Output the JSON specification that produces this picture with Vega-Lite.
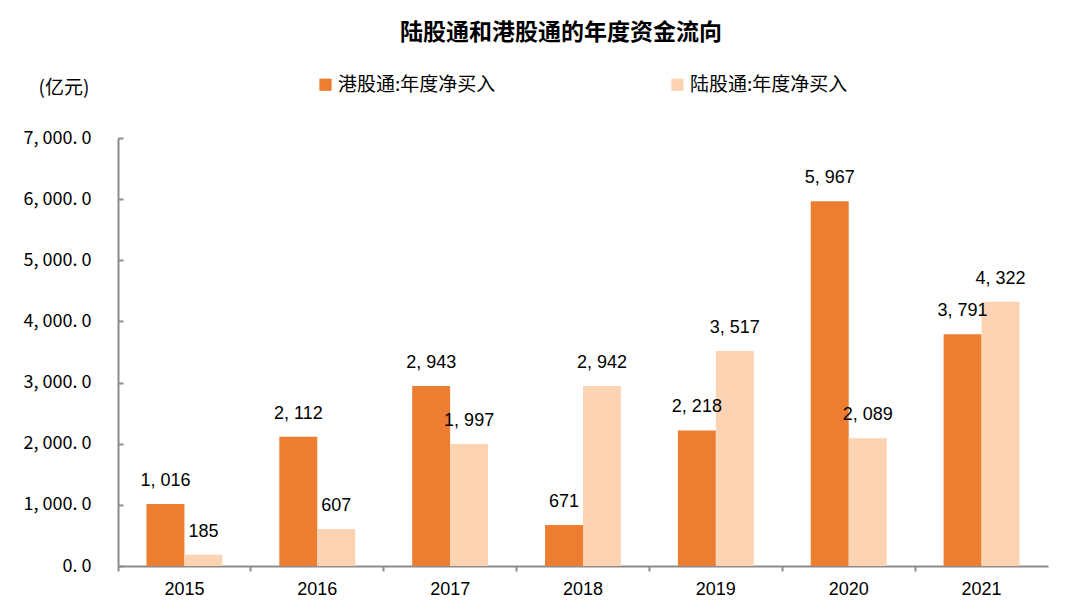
{
  "$schema": "https://vega.github.io/schema/vega-lite/v6.json",
  "autosize": "none",
  "width": 930,
  "height": 428,
  "padding": {"left": 118, "top": 138, "right": 32, "bottom": 49},
  "background": "white",
  "title": {
    "text": "陆股通和港股通的年度资金流向",
    "font": "Noto Sans CJK SC",
    "fontSize": 23,
    "fontWeight": "bold",
    "color": "#000000",
    "anchor": "middle",
    "dx": -22,
    "offset": 30
  },
  "data": {
    "values": [
      {"year": "2015", "series": "港股通:年度净买入", "v": 1016},
      {"year": "2015", "series": "陆股通:年度净买入", "v": 185},
      {"year": "2016", "series": "港股通:年度净买入", "v": 2112},
      {"year": "2016", "series": "陆股通:年度净买入", "v": 607},
      {"year": "2017", "series": "港股通:年度净买入", "v": 2943},
      {"year": "2017", "series": "陆股通:年度净买入", "v": 1997},
      {"year": "2018", "series": "港股通:年度净买入", "v": 671},
      {"year": "2018", "series": "陆股通:年度净买入", "v": 2942},
      {"year": "2019", "series": "港股通:年度净买入", "v": 2218},
      {"year": "2019", "series": "陆股通:年度净买入", "v": 3517},
      {"year": "2020", "series": "港股通:年度净买入", "v": 5967},
      {"year": "2020", "series": "陆股通:年度净买入", "v": 2089},
      {"year": "2021", "series": "港股通:年度净买入", "v": 3791},
      {"year": "2021", "series": "陆股通:年度净买入", "v": 4322}
    ]
  },
  "transform": [
    {"calculate": "replace(format(datum.v, ','), ',', ', ')", "as": "label"}
  ],
  "encoding": {
    "x": {
      "field": "year",
      "type": "nominal",
      "scale": {"paddingInner": 0, "paddingOuter": 0},
      "axis": {
        "title": null,
        "labelAngle": 0,
        "bandPosition": 0,
        "labelFont": "Liberation Sans",
        "labelFontSize": 18,
        "labelColor": "#000000",
        "labelPadding": 9,
        "domainColor": "#8c8c8c",
        "domainWidth": 2,
        "tickColor": "#8c8c8c",
        "tickWidth": 2,
        "tickSize": 5,
        "grid": false
      }
    },
    "xOffset": {
      "field": "series",
      "type": "nominal",
      "sort": ["港股通:年度净买入", "陆股通:年度净买入"],
      "scale": {"paddingInner": 0, "paddingOuter": 0.75}
    },
    "y": {
      "field": "v",
      "type": "quantitative",
      "scale": {"domain": [0, 7000], "nice": false},
      "axis": {
        "values": [0, 1000, 2000, 3000, 4000, 5000, 6000, 7000],
        "labelExpr": "replace(format(datum.value, ',.1f'), /([,.])/g, '$1 ')",
        "labelFont": "Noto Sans CJK SC",
        "labelFontSize": 18,
        "labelColor": "#000000",
        "labelPadding": 32,
        "domainColor": "#8c8c8c",
        "domainWidth": 2,
        "tickColor": "#8c8c8c",
        "tickWidth": 2,
        "tickSize": -5,
        "grid": false,
        "title": "(亿元)",
        "titleFont": "Noto Sans CJK SC",
        "titleFontSize": 19,
        "titleFontWeight": "normal",
        "titleColor": "#000000",
        "titleAngle": 0,
        "titleAlign": "left",
        "titleBaseline": "middle",
        "titleX": -80,
        "titleY": -51
      }
    }
  },
  "layer": [
    {
      "mark": {"type": "bar"},
      "encoding": {
        "color": {
          "field": "series",
          "type": "nominal",
          "sort": ["港股通:年度净买入", "陆股通:年度净买入"],
          "scale": {"range": ["#ED7D31", "#FCD4B3"]},
          "legend": {
            "title": null,
            "orient": "none",
            "legendX": 198,
            "legendY": -63,
            "direction": "horizontal",
            "symbolType": "square",
            "symbolSize": 150,
            "symbolOpacity": 1,
            "symbolStrokeWidth": 0,
            "labelFont": "Noto Sans CJK SC",
            "labelFontSize": 19,
            "labelColor": "#000000",
            "labelLimit": 400,
            "labelOffset": 3,
            "columnPadding": 172
          }
        }
      }
    },
    {
      "mark": {
        "type": "text",
        "baseline": "alphabetic",
        "dy": -18,
        "font": "Liberation Sans",
        "fontSize": 18,
        "color": "#000000"
      },
      "encoding": {
        "text": {"field": "label"}
      }
    }
  ],
  "config": {"view": {"stroke": null}}
}
